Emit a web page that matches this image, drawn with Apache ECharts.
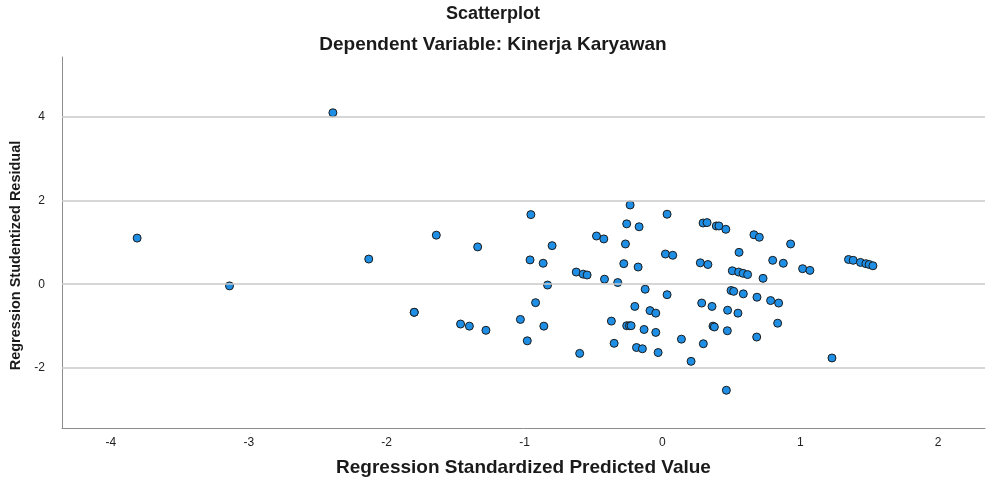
<!DOCTYPE html>
<html>
<head>
<meta charset="utf-8">
<script src="https://cdn.jsdelivr.net/npm/echarts@6/dist/echarts.min.js"></script>
<style>
html,body{margin:0;padding:0;background:#fff;}
#chart{width:986px;height:483px;}
</style>
</head>
<body>
<div id="chart"></div>
<script>
// Regression Standardized Predicted Value (x) and Studentized Residual (y)
var predicted = [
  -3.81, -3.14, -2.39,
  -2.13, -1.64, -1.34, -0.954, -0.80, -0.96, -0.865, -0.833, -0.92,
  -1.80, -1.80, -1.464, -1.40, -1.28, -1.03, -0.86, -0.98,
  -0.234, 0.034, -0.259, -0.169, 0.295, 0.324, 0.391, 0.41, 0.46,
  0.664, 0.703, -0.478, -0.425, -0.268, 0.556, 0.022, 0.075,
  -0.28, -0.176, 0.275, 0.33, -0.625, -0.575, -0.546, -0.42, -0.324,
  0.507, 0.553, 0.585, 0.618, 0.73, -0.125, 0.034, 0.498, 0.517,
  0.587, 0.686, 0.785, 0.843, -0.20, -0.09, -0.048, 0.285, 0.36,
  0.473, 0.548, -0.37, -0.259, -0.239, -0.227, -0.133, -0.048,
  0.367, 0.377, 0.471, 0.836, 0.684, 0.138, -0.35, 0.297, -0.60,
  -0.188, -0.145, -0.031, 0.208, 0.464,
  0.93, 0.80, 0.877, 1.017, 1.07, 1.35, 1.384, 1.437, 1.476, 1.50, 1.527, 1.23
];
var residual = [
  1.10, -0.04, 4.09,
  0.60, 1.17, 0.89, 1.66, 0.92, 0.58, 0.50, -0.02, -0.44,
  -0.67, -0.67, -0.95, -1.00, -1.10, -0.84, -1.00, -1.35,
  1.89, 1.67, 1.44, 1.37, 1.46, 1.47, 1.39, 1.39, 1.31,
  1.18, 1.12, 1.15, 1.08, 0.96, 0.76, 0.72, 0.69,
  0.49, 0.41, 0.51, 0.47, 0.29, 0.24, 0.22, 0.12, 0.04,
  0.32, 0.29, 0.26, 0.23, 0.14, -0.12, -0.25, -0.15, -0.17,
  -0.23, -0.31, -0.39, -0.45, -0.53, -0.63, -0.69, -0.45, -0.53,
  -0.62, -0.69, -0.88, -0.99, -0.99, -0.99, -1.08, -1.15,
  -1.00, -1.02, -1.11, -0.93, -1.26, -1.31, -1.41, -1.42, -1.65,
  -1.51, -1.54, -1.63, -1.84, -2.53,
  0.96, 0.57, 0.50, 0.37, 0.33, 0.59, 0.57, 0.52, 0.49, 0.47, 0.44, -1.76
];
var xTicks = [-4, -3, -2, -1, 0, 1, 2];
var yTicks = [-2, 0, 2, 4];

var points = predicted.map(function (x, i) { return [x, residual[i]]; });

var chart = echarts.init(document.getElementById('chart'));
var font = 'Liberation Sans, Arial, sans-serif';
chart.setOption({
  animation: false,
  backgroundColor: '#ffffff',
  title: [
    { text: 'Scatterplot', left: 'center', top: 0,
      textStyle: { fontFamily: font, fontSize: 18, fontWeight: 'bold', color: '#1a1a1a' } },
    { text: 'Dependent Variable: Kinerja Karyawan', left: 'center', top: 30,
      textStyle: { fontFamily: font, fontSize: 19, fontWeight: 'bold', color: '#1a1a1a' } }
  ],
  grid: { left: 62, right: 1, top: 57, bottom: 55, containLabel: false },
  xAxis: {
    type: 'value', min: -4.355, max: 2.34,
    name: 'Regression Standardized Predicted Value',
    nameLocation: 'middle', nameGap: 30,
    nameTextStyle: { fontFamily: font, fontSize: 19, fontWeight: 'bold', color: '#1a1a1a' },
    axisLine: { show: true, onZero: false, lineStyle: { color: '#8c8c8c', width: 1 } },
    axisTick: { show: false },
    splitLine: { show: false },
    axisLabel: { customValues: xTicks, margin: 9, fontFamily: font, fontSize: 12, color: '#222' }
  },
  yAxis: {
    type: 'value', min: -3.43, max: 5.42,
    name: 'Regression Studentized Residual',
    nameLocation: 'middle', nameGap: 34, nameRotate: 90,
    nameTextStyle: { fontFamily: font, fontSize: 14.5, fontWeight: 'bold', color: '#1a1a1a',
      padding: [0, 26, 0, 0] },
    axisLine: { show: true, onZero: false, lineStyle: { color: '#8c8c8c', width: 1 } },
    axisTick: { show: false },
    splitLine: { show: false },
    axisLabel: { customValues: yTicks, margin: 17, fontFamily: font, fontSize: 12, color: '#222' }
  },
  series: [
    {
      type: 'scatter', data: [], z: 1, silent: true,
      markLine: {
        silent: true, symbol: 'none', animation: false,
        label: { show: false },
        lineStyle: { color: '#c8c8c8', width: 1.5, type: 'solid' },
        data: yTicks.map(function (v) { return { yAxis: v }; })
      }
    },
    {
      type: 'scatter', z: 3,
      data: points,
      symbol: 'circle', symbolSize: 8,
      itemStyle: { color: '#1f8fe6', borderColor: '#1b1b1b', borderWidth: 1, opacity: 1 }
    }
  ]
});
</script>
</body>
</html>
